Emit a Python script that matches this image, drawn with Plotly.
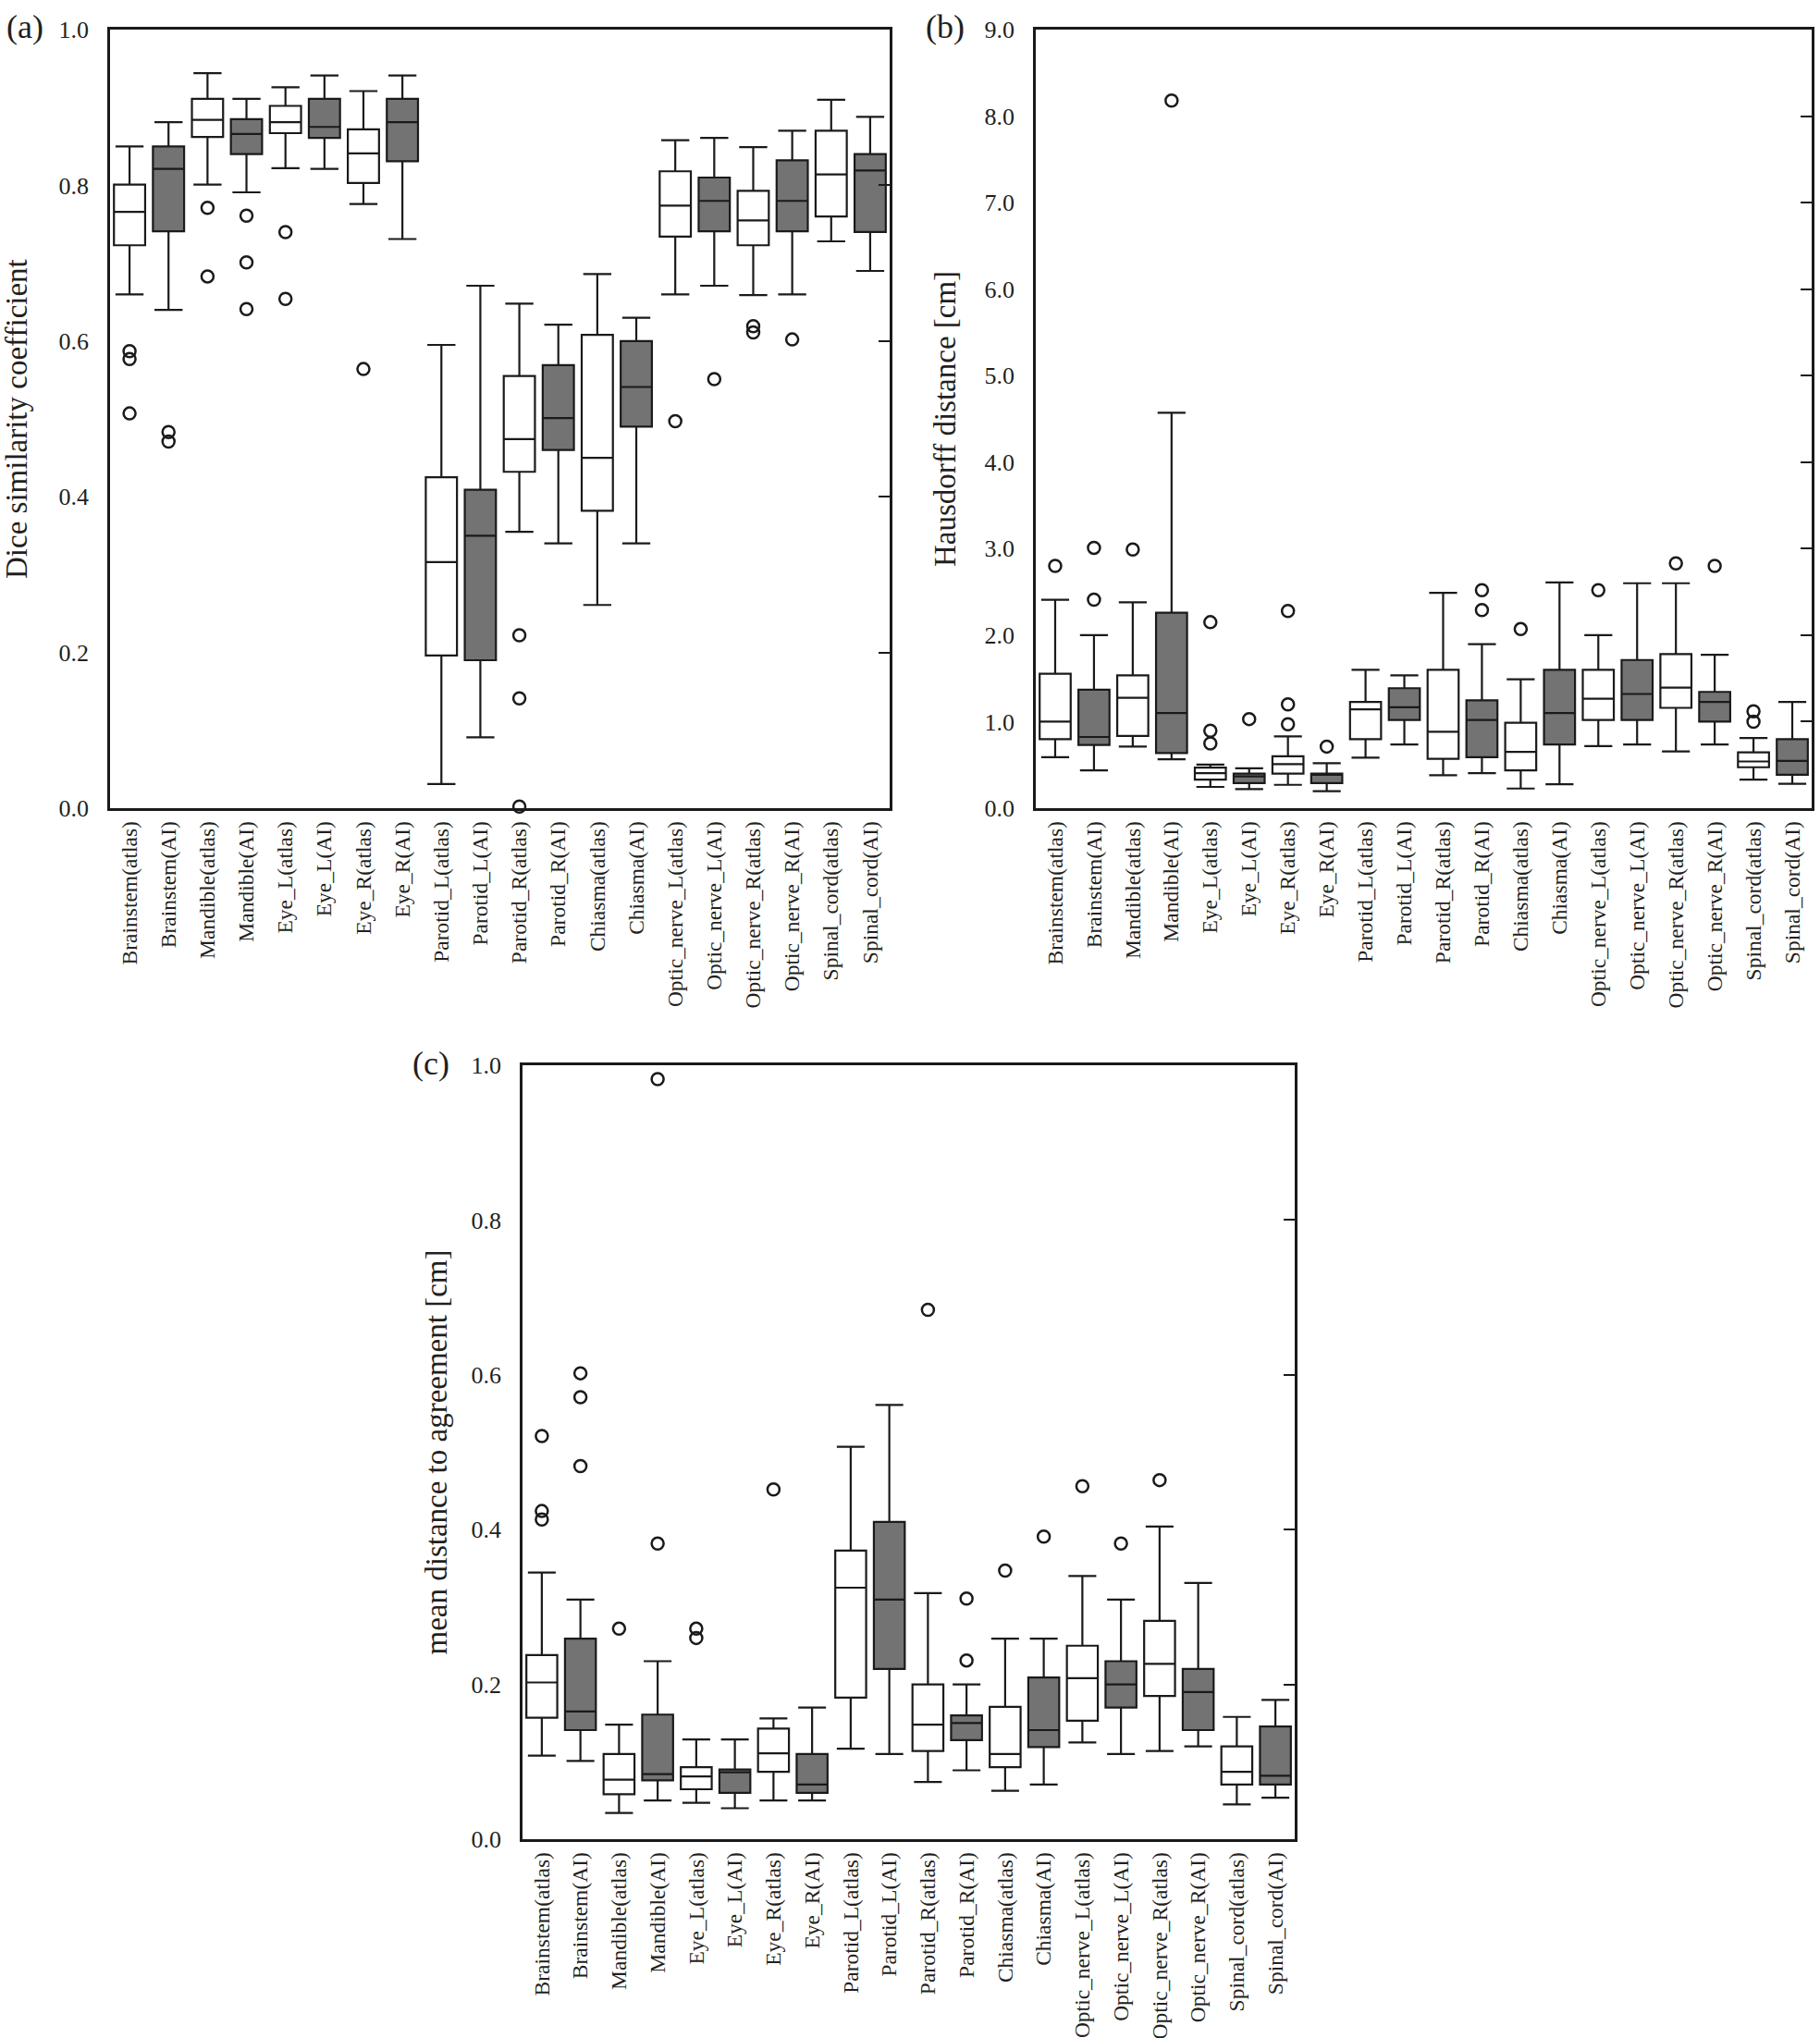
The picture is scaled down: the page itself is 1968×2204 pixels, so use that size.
import plotly.graph_objects as go

# ---------------- data ----------------
categories = ["Brainstem(atlas)", "Brainstem(AI)", "Mandible(atlas)", "Mandible(AI)",
              "Eye_L(atlas)", "Eye_L(AI)", "Eye_R(atlas)", "Eye_R(AI)",
              "Parotid_L(atlas)", "Parotid_L(AI)", "Parotid_R(atlas)", "Parotid_R(AI)",
              "Chiasma(atlas)", "Chiasma(AI)", "Optic_nerve_L(atlas)", "Optic_nerve_L(AI)",
              "Optic_nerve_R(atlas)", "Optic_nerve_R(AI)", "Spinal_cord(atlas)", "Spinal_cord(AI)"]

# (a) Dice similarity coefficient
dsc_lower = [0.660, 0.640, 0.801, 0.791, 0.822, 0.821, 0.776, 0.731, 0.031, 0.091,
             0.355, 0.340, 0.261, 0.340, 0.660, 0.671, 0.659, 0.660, 0.728, 0.690]
dsc_q1 = [0.723, 0.741, 0.862, 0.840, 0.867, 0.861, 0.803, 0.831, 0.196, 0.190,
          0.432, 0.460, 0.382, 0.490, 0.734, 0.741, 0.723, 0.741, 0.760, 0.740]
dsc_median = [0.766, 0.821, 0.884, 0.866, 0.881, 0.875, 0.841, 0.881, 0.316, 0.350,
              0.474, 0.501, 0.450, 0.541, 0.774, 0.780, 0.755, 0.780, 0.814, 0.819]
dsc_q3 = [0.801, 0.850, 0.911, 0.885, 0.902, 0.911, 0.872, 0.911, 0.425, 0.409,
          0.555, 0.569, 0.608, 0.600, 0.818, 0.810, 0.793, 0.832, 0.870, 0.840]
dsc_upper = [0.850, 0.881, 0.944, 0.911, 0.926, 0.941, 0.921, 0.941, 0.595, 0.671,
             0.648, 0.621, 0.686, 0.630, 0.858, 0.861, 0.849, 0.870, 0.910, 0.888]
dsc_out_cat = ["Brainstem(atlas)", "Brainstem(atlas)", "Brainstem(atlas)",
               "Brainstem(AI)", "Brainstem(AI)",
               "Mandible(atlas)", "Mandible(atlas)",
               "Mandible(AI)", "Mandible(AI)", "Mandible(AI)",
               "Eye_L(atlas)", "Eye_L(atlas)", "Eye_R(atlas)",
               "Parotid_R(atlas)", "Parotid_R(atlas)", "Parotid_R(atlas)",
               "Optic_nerve_L(atlas)", "Optic_nerve_L(AI)",
               "Optic_nerve_R(atlas)", "Optic_nerve_R(atlas)", "Optic_nerve_R(AI)"]
dsc_out_val = [0.587, 0.577, 0.507, 0.483, 0.471, 0.771, 0.683, 0.761, 0.701, 0.641,
               0.740, 0.654, 0.564, 0.222, 0.141, 0.002, 0.497, 0.551, 0.619, 0.611, 0.602]

# (b) Hausdorff distance [cm]
hd_lower = [0.589, 0.436, 0.712, 0.565, 0.246, 0.221, 0.270, 0.196, 0.583, 0.737,
            0.381, 0.405, 0.227, 0.276, 0.718, 0.737, 0.657, 0.737, 0.331, 0.282]
hd_q1 = [0.798, 0.731, 0.835, 0.638, 0.331, 0.289, 0.400, 0.289, 0.798, 1.019,
         0.571, 0.589, 0.436, 0.737, 1.019, 1.019, 1.160, 1.000, 0.473, 0.387]
hd_median = [1.000, 0.823, 1.277, 1.100, 0.405, 0.368, 0.510, 0.387, 1.142, 1.166,
             0.884, 1.019, 0.651, 1.100, 1.265, 1.320, 1.394, 1.228, 0.540, 0.546]
hd_q3 = [1.553, 1.369, 1.535, 2.260, 0.470, 0.400, 0.600, 0.400, 1.228, 1.387,
         1.600, 1.246, 0.988, 1.600, 1.600, 1.713, 1.780, 1.344, 0.645, 0.798]
hd_upper = [2.410, 2.000, 2.380, 4.570, 0.503, 0.460, 0.829, 0.520, 1.600, 1.535,
            2.490, 1.897, 1.490, 2.610, 2.000, 2.600, 2.600, 1.774, 0.810, 1.228]
hd_out_cat = ["Brainstem(atlas)", "Brainstem(AI)", "Brainstem(AI)", "Mandible(atlas)",
              "Mandible(AI)", "Eye_L(atlas)", "Eye_L(atlas)", "Eye_L(atlas)", "Eye_L(AI)",
              "Eye_R(atlas)", "Eye_R(atlas)", "Eye_R(atlas)", "Eye_R(AI)",
              "Parotid_R(AI)", "Parotid_R(AI)", "Chiasma(atlas)", "Optic_nerve_L(atlas)",
              "Optic_nerve_R(atlas)", "Optic_nerve_R(AI)", "Spinal_cord(atlas)", "Spinal_cord(atlas)"]
hd_out_val = [2.80, 3.01, 2.41, 2.99, 8.18, 2.15, 0.896, 0.749, 1.03, 2.28, 1.20, 0.97,
              0.712, 2.52, 2.29, 2.07, 2.52, 2.83, 2.80, 1.12, 1.00]

# (c) mean distance to agreement [cm]
mda_lower = [0.108, 0.101, 0.034, 0.050, 0.047, 0.040, 0.050, 0.050, 0.117, 0.110,
             0.074, 0.089, 0.0625, 0.0707, 0.125, 0.110, 0.114, 0.120, 0.045, 0.0535]
mda_q1 = [0.157, 0.141, 0.058, 0.076, 0.0645, 0.060, 0.087, 0.060, 0.183, 0.220,
          0.114, 0.128, 0.093, 0.119, 0.153, 0.170, 0.185, 0.141, 0.0707, 0.0707]
mda_median = [0.2025, 0.165, 0.077, 0.084, 0.081, 0.0865, 0.111, 0.0707, 0.325, 0.3095,
              0.148, 0.150, 0.110, 0.141, 0.208, 0.200, 0.2265, 0.190, 0.087, 0.082]
mda_q3 = [0.238, 0.259, 0.110, 0.161, 0.093, 0.090, 0.143, 0.110, 0.373, 0.410,
          0.200, 0.160, 0.171, 0.209, 0.250, 0.230, 0.282, 0.220, 0.120, 0.1455]
mda_upper = [0.3445, 0.3095, 0.148, 0.230, 0.129, 0.129, 0.156, 0.170, 0.507, 0.561,
             0.318, 0.200, 0.259, 0.259, 0.340, 0.3095, 0.404, 0.331, 0.158, 0.180]
mda_out_cat = ["Brainstem(atlas)", "Brainstem(atlas)", "Brainstem(atlas)",
               "Brainstem(AI)", "Brainstem(AI)", "Brainstem(AI)",
               "Mandible(atlas)", "Mandible(AI)", "Mandible(AI)",
               "Eye_L(atlas)", "Eye_L(atlas)", "Eye_R(atlas)",
               "Parotid_R(atlas)", "Parotid_R(AI)", "Parotid_R(AI)",
               "Chiasma(atlas)", "Chiasma(AI)", "Optic_nerve_L(atlas)",
               "Optic_nerve_L(AI)", "Optic_nerve_R(atlas)"]
mda_out_val = [0.521, 0.424, 0.413, 0.602, 0.571, 0.482, 0.272, 0.982, 0.382,
               0.272, 0.260, 0.452, 0.684, 0.311, 0.231, 0.347, 0.391, 0.456, 0.382, 0.464]

panels = [
    dict(key="a", title="Dice similarity coefficient", yrange=[0, 1.0], dtick=0.2,
         lower=dsc_lower, q1=dsc_q1, med=dsc_median, q3=dsc_q3, upper=dsc_upper,
         out_cat=dsc_out_cat, out_val=dsc_out_val),
    dict(key="b", title="Hausdorff distance [cm]", yrange=[0, 9.0], dtick=1.0,
         lower=hd_lower, q1=hd_q1, med=hd_median, q3=hd_q3, upper=hd_upper,
         out_cat=hd_out_cat, out_val=hd_out_val),
    dict(key="c", title="mean distance to agreement [cm]", yrange=[0, 1.0], dtick=0.2,
         lower=mda_lower, q1=mda_q1, med=mda_median, q3=mda_q3, upper=mda_upper,
         out_cat=mda_out_cat, out_val=mda_out_val),
]

# ---------------- layout geometry (pixels in a 1968 x 2204 canvas) ----------------
W, H = 1968, 2204
frames = [  # left, right, top, bottom
    (119, 962, 32, 874),
    (1120, 1959, 32, 874),
    (565, 1400, 1152, 1989),
]
title_x = [18, 1022, 471]
label_pos = [(27, 29), (1022, 29), (466, 1150)]

FONT = "Liberation Serif, Times New Roman, serif"
TXT = "#231f20"
LINE = "#1a1a1a"
GRAY = "#737373"

fig = go.Figure()
layout = dict(template="none", width=W, height=H, margin=dict(l=0, r=0, t=0, b=0, pad=0),
              paper_bgcolor="white", plot_bgcolor="rgba(0,0,0,0)", showlegend=False,
              boxmode="overlay", font=dict(family=FONT, color=TXT))
annotations = []

for i, p in enumerate(panels):
    n = i + 1
    xa = "x" if n == 1 else f"x{n}"
    ya = "y" if n == 1 else f"y{n}"
    ya_r = f"y{n + 3}"
    L, R, T, B = frames[i]

    atlas_idx = [k for k in range(len(categories)) if k % 2 == 0]
    ai_idx = [k for k in range(len(categories)) if k % 2 == 1]
    for idx, fill in ((atlas_idx, "white"), (ai_idx, GRAY)):
        fig.add_trace(go.Box(
            x=[categories[k] for k in idx],
            lowerfence=[p["lower"][k] for k in idx],
            q1=[p["q1"][k] for k in idx],
            median=[p["med"][k] for k in idx],
            q3=[p["q3"][k] for k in idx],
            upperfence=[p["upper"][k] for k in idx],
            fillcolor=fill, line=dict(color=LINE, width=2.2),
            width=0.8, whiskerwidth=0.9, boxpoints=False,
            xaxis=xa, yaxis=ya, hoverinfo="skip"))
    # outliers drawn on the right-hand (tick-only) axis, which shares the same range
    fig.add_trace(go.Scatter(
        x=p["out_cat"], y=p["out_val"], mode="markers", cliponaxis=False,
        marker=dict(symbol="circle-open", size=13, color=LINE, line=dict(width=2.5)),
        xaxis=xa, yaxis=ya_r, hoverinfo="skip"))

    xkey = "xaxis" if n == 1 else f"xaxis{n}"
    ykey = "yaxis" if n == 1 else f"yaxis{n}"
    layout[xkey] = dict(
        domain=[L / W, R / W], anchor=ya, type="category", automargin=False,
        categoryorder="array", categoryarray=categories, range=[-0.5, 19.5],
        showline=True, mirror=True, linecolor=LINE, linewidth=2.5,
        showgrid=False, zeroline=False, ticks="", tickangle=-90,
        tickfont=dict(family=FONT, size=23.5, color=TXT), ticklabelstandoff=2)
    layout[ykey] = dict(
        domain=[1 - B / H, 1 - T / H], anchor=xa, range=p["yrange"], automargin=False,
        tick0=0, dtick=p["dtick"], tickformat=".1f",
        showline=True, mirror=True, linecolor=LINE, linewidth=2.5,
        showgrid=False, zeroline=False, ticks="",
        tickfont=dict(family=FONT, size=26, color=TXT), ticklabelstandoff=15)
    layout[f"yaxis{n + 3}"] = dict(
        domain=[1 - B / H, 1 - T / H], anchor=xa, overlaying=ya, side="right",
        range=p["yrange"], tick0=0, dtick=p["dtick"], showticklabels=False,
        automargin=False, showline=False, showgrid=False, zeroline=False,
        ticks="inside", ticklen=12, tickwidth=2, tickcolor=LINE)

    annotations.append(dict(
        x=title_x[i] / W, y=1 - ((T + B) / 2) / H, xref="paper", yref="paper",
        text=p["title"], textangle=-90, showarrow=False, xanchor="center", yanchor="middle",
        font=dict(family=FONT, size=33, color=TXT)))
    lx, ly = label_pos[i]
    annotations.append(dict(
        x=lx / W, y=1 - ly / H, xref="paper", yref="paper",
        text=f"({p['key']})", showarrow=False, xanchor="center", yanchor="middle",
        font=dict(family=FONT, size=36, color=TXT)))

layout["annotations"] = annotations
fig.update_layout(**layout)
fig.write_html("out.html", config={"displayModeBar": False},
               post_script="document.body.style.margin='0';document.body.style.overflow='hidden';")
